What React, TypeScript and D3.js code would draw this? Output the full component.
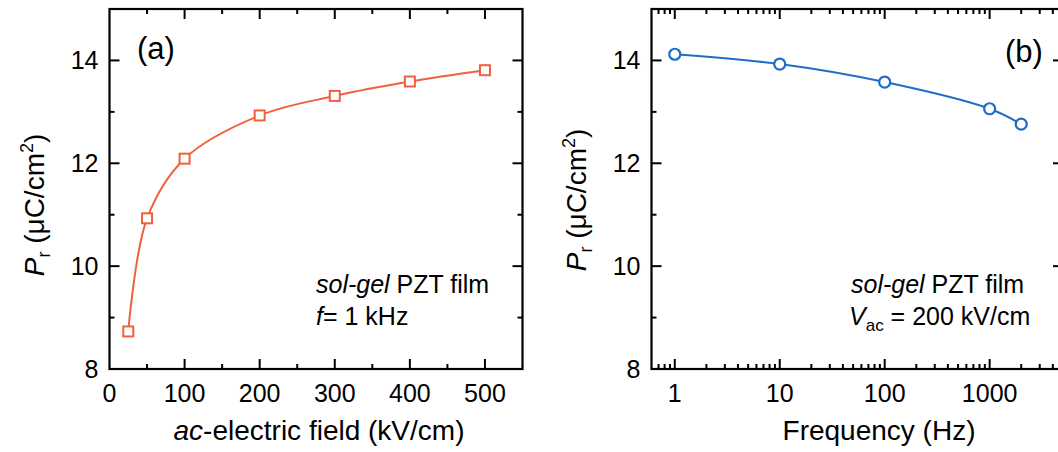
import React from 'react';
import * as d3 from 'd3';

// Data
const fieldKV = [25, 50, 100, 200, 300, 400, 500];
const prField = [8.73, 10.93, 12.09, 12.93, 13.31, 13.59, 13.81];
const freqHz = [1, 10, 100, 1000, 2000];
const prFreq = [14.12, 13.93, 13.58, 13.06, 12.76];
const yTickLabels = [8, 10, 12, 14];
const fieldTickLabels = [0, 100, 200, 300, 400, 500];
const freqTickLabels = [1, 10, 100, 1000];

const W = 1058;
const H = 452;
const FONT = '"Liberation Sans", Arial, Helvetica, sans-serif';
const ORANGE = '#F0613D';
const BLUE = '#1F6DC6';

const TOP = 9;
const BOTTOM = 369;

const yScale = d3.scaleLinear().domain([8, 15]).range([BOTTOM, TOP]);
const xA = d3.scaleLinear().domain([0, 550]).range([109.5, 522.5]);
const xB = d3.scaleLog().domain([0.6, 5000]).range([651.5, 1063]);

const MAJ = 10;
const MIN = 5;

function YTicks({ left, right }: { left: number; right: number }) {
  const vals = d3.range(9, 15, 1);
  return (
    <g stroke="#000" strokeWidth={2}>
      {vals.map((v) => {
        const len = v % 2 === 0 ? MAJ : MIN;
        const y = yScale(v);
        return (
          <g key={v}>
            <line x1={left} x2={left + len} y1={y} y2={y} />
            <line x1={right} x2={right - len} y1={y} y2={y} />
          </g>
        );
      })}
    </g>
  );
}

function YLabels({ left }: { left: number }) {
  return (
    <g fontFamily={FONT} fontSize={25} fill="#000" textAnchor="end">
      {yTickLabels.map((v) => (
        <text key={v} x={left - 11} y={yScale(v) + 9}>
          {v}
        </text>
      ))}
    </g>
  );
}

function PanelA() {
  const [x0, x1] = xA.range();
  const xt = d3.range(50, 550, 50);
  const line = d3
    .line<number>()
    .x((_, i) => xA(fieldKV[i]))
    .y((d) => yScale(d))
    .curve(d3.curveCatmullRom.alpha(0.5));
  return (
    <g>
      <g stroke="#000" strokeWidth={2}>
        {xt.map((v) => {
          const len = v % 100 === 0 ? MAJ : MIN;
          const x = xA(v);
          return (
            <g key={v}>
              <line x1={x} x2={x} y1={BOTTOM} y2={BOTTOM - len} />
              <line x1={x} x2={x} y1={TOP} y2={TOP + len} />
            </g>
          );
        })}
      </g>
      <YTicks left={x0} right={x1} />
      <rect x={x0} y={TOP} width={x1 - x0} height={BOTTOM - TOP} fill="none" stroke="#000" strokeWidth={2.2} />
      <path d={line(prField) || ''} fill="none" stroke={ORANGE} strokeWidth={2} />
      {fieldKV.map((v, i) => (
        <rect
          key={v}
          x={xA(v) - 5}
          y={yScale(prField[i]) - 5}
          width={10}
          height={10}
          fill="#fff"
          stroke={ORANGE}
          strokeWidth={2}
        />
      ))}
      <YLabels left={x0} />
      <g fontFamily={FONT} fontSize={25} fill="#000" textAnchor="middle">
        {fieldTickLabels.map((v) => (
          <text key={v} x={xA(v)} y={402}>
            {v}
          </text>
        ))}
      </g>
      <text x={319} y={440} fontFamily={FONT} fontSize={28} textAnchor="middle">
        <tspan fontStyle="italic">ac</tspan>
        <tspan>-electric field (kV/cm)</tspan>
      </text>
      <text transform="translate(44,205) rotate(-90)" fontFamily={FONT} fontSize={28} textAnchor="middle">
        <tspan fontStyle="italic">P</tspan>
        <tspan fontSize={18} dy={6}>r</tspan>
        <tspan dy={-6}> (μC/cm</tspan>
        <tspan fontSize={18} dy={-11}>2</tspan>
        <tspan dy={11}>)</tspan>
      </text>
      <text x={137} y={59} fontFamily={FONT} fontSize={31}>(a)</text>
      <g fontFamily={FONT} fontSize={25}>
        <text x={316} y={293}>
          <tspan fontStyle="italic">sol-gel</tspan>
          <tspan> PZT film</tspan>
        </text>
        <text x={316} y={325}>
          <tspan fontStyle="italic">f</tspan>
          <tspan>= 1 kHz</tspan>
        </text>
      </g>
    </g>
  );
}

function PanelB() {
  const [x0, x1] = xB.range();
  const ticks = xB.ticks().filter((v) => v > 0.6 && v < 5000);
  const line = d3
    .line<number>()
    .x((_, i) => xB(freqHz[i]))
    .y((d) => yScale(d))
    .curve(d3.curveCatmullRom.alpha(0.5));
  return (
    <g>
      <g stroke="#000" strokeWidth={2}>
        {ticks.map((v) => {
          const lg = Math.log10(v);
          const len = Math.abs(lg - Math.round(lg)) < 1e-9 ? MAJ : MIN;
          const x = xB(v);
          return (
            <g key={v}>
              <line x1={x} x2={x} y1={BOTTOM} y2={BOTTOM - len} />
              <line x1={x} x2={x} y1={TOP} y2={TOP + len} />
            </g>
          );
        })}
      </g>
      <YTicks left={x0} right={x1} />
      <rect x={x0} y={TOP} width={x1 - x0} height={BOTTOM - TOP} fill="none" stroke="#000" strokeWidth={2.2} />
      <path d={line(prFreq) || ''} fill="none" stroke={BLUE} strokeWidth={2} />
      {freqHz.map((v, i) => (
        <circle key={v} cx={xB(v)} cy={yScale(prFreq[i])} r={5.5} fill="#fff" stroke={BLUE} strokeWidth={2.2} />
      ))}
      <YLabels left={x0} />
      <g fontFamily={FONT} fontSize={25} fill="#000" textAnchor="middle">
        {freqTickLabels.map((v) => (
          <text key={v} x={xB(v)} y={402}>
            {v}
          </text>
        ))}
      </g>
      <text x={879} y={440} fontFamily={FONT} fontSize={28} textAnchor="middle">
        Frequency (Hz)
      </text>
      <text transform="translate(586,200) rotate(-90)" fontFamily={FONT} fontSize={28} textAnchor="middle">
        <tspan fontStyle="italic">P</tspan>
        <tspan fontSize={18} dy={6}>r</tspan>
        <tspan dy={-6}> (μC/cm</tspan>
        <tspan fontSize={18} dy={-11}>2</tspan>
        <tspan dy={11}>)</tspan>
      </text>
      <text x={1005} y={62} fontFamily={FONT} fontSize={31}>(b)</text>
      <g fontFamily={FONT} fontSize={25}>
        <text x={851} y={293}>
          <tspan fontStyle="italic">sol-gel</tspan>
          <tspan> PZT film</tspan>
        </text>
        <text x={849} y={325}>
          <tspan fontStyle="italic">V</tspan>
          <tspan fontSize={17} dy={6}>ac</tspan>
          <tspan dy={-6}> = 200 kV/cm</tspan>
        </text>
      </g>
    </g>
  );
}

export default function App() {
  return (
    <svg
      width={W}
      height={H}
      viewBox={`0 0 ${W} ${H}`}
      style={{ position: 'absolute', left: 0, top: 0, background: '#fff' }}
    >
      <rect x={0} y={0} width={W} height={H} fill="#fff" />
      <PanelA />
      <PanelB />
    </svg>
  );
}
